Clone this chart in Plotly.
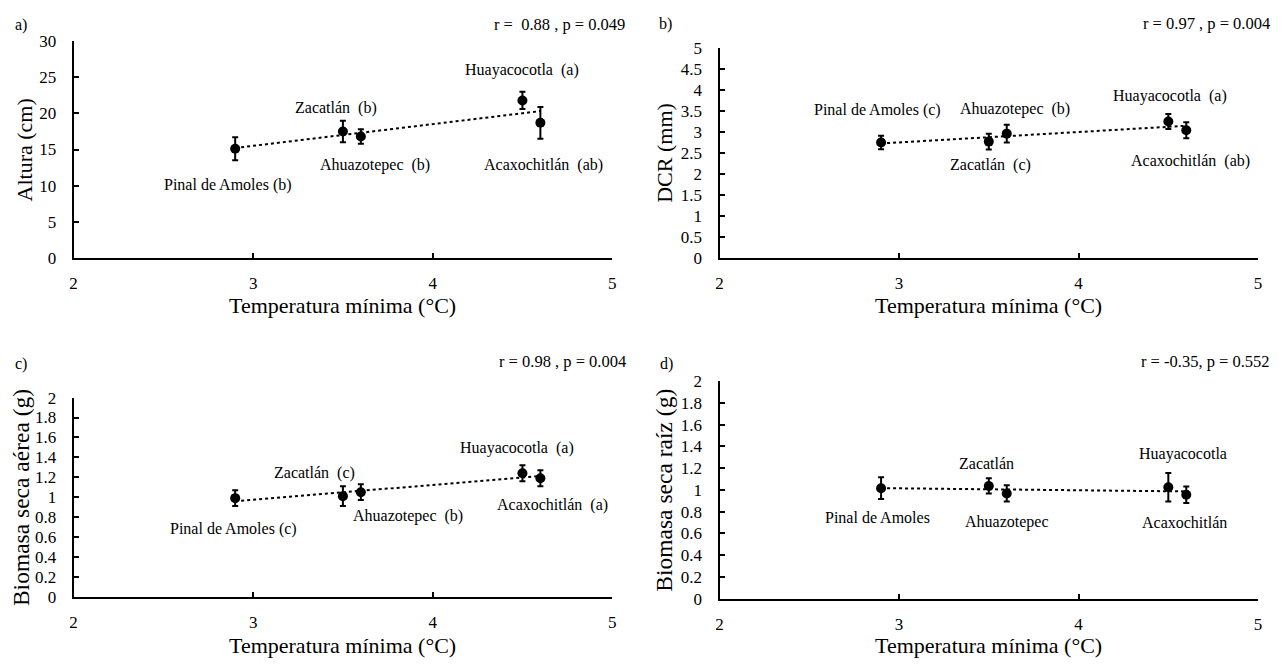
import numpy as np
import plotly.graph_objects as go

# ---------------- data ----------------
sites = ["Pinal de Amoles", "Zacatlán", "Ahuazotepec", "Huayacocotla", "Acaxochitlán"]
temp_min = [2.9, 3.5, 3.6, 4.5, 4.6]

altura = [15.1, 17.5, 16.8, 21.8, 18.7]
altura_err = [1.6, 1.5, 1.0, 1.2, 2.2]
altura_letters = ["(b)", "(b)", "(b)", "(a)", "(ab)"]

dcr = [2.75, 2.77, 2.96, 3.25, 3.04]
dcr_err = [0.16, 0.19, 0.21, 0.18, 0.19]
dcr_letters = ["(c)", "(c)", "(b)", "(a)", "(ab)"]

bsa = [0.99, 1.01, 1.05, 1.24, 1.19]
bsa_err = [0.08, 0.10, 0.08, 0.08, 0.08]
bsa_letters = ["(c)", "(c)", "(b)", "(a)", "(a)"]

bsr = [1.015, 1.036, 0.967, 1.024, 0.955]
bsr_err = [0.10, 0.07, 0.075, 0.13, 0.075]
bsr_letters = ["", "", "", "", ""]

stats = ["r =  0.88 , p = 0.049", "r = 0.97 , p = 0.004",
         "r = 0.98 , p = 0.004", "r = -0.35, p = 0.552"]
panel_tags = ["a)", "b)", "c)", "d)"]
y_titles = ["Altura (cm)", "DCR (mm)", "Biomasa seca aérea (g)", "Biomasa seca raíz (g)"]
x_title = "Temperatura mínima (°C)"
x_ticks = [2, 3, 4, 5]
y_ranges = [[0, 30], [0, 5], [0, 2], [0, 2]]
y_dticks = [5, 0.5, 0.2, 0.2]

# label positions (data coords) per panel, per site
label_x = [
    [2.86, 3.46, 3.68, 4.50, 4.62],
    [2.88, 3.51, 3.645, 4.51, 4.625],
    [2.89, 3.34, 3.86, 4.47, 4.67],
    [2.88, 3.49, 3.60, 4.58, 4.59],
]
label_y = [
    [10.07, 20.8, 12.85, 26.06, 12.85],
    [3.52, 2.215, 3.55, 3.86, 2.31],
    [0.677, 1.246, 0.81, 1.49, 0.917],
    [0.743, 1.243, 0.704, 1.33, 0.704],
]

series = [(altura, altura_err, altura_letters), (dcr, dcr_err, dcr_letters),
          (bsa, bsa_err, bsa_letters), (bsr, bsr_err, bsr_letters)]

# ---------------- layout geometry (page pixels) ----------------
OFF = 8                       # default body margin of the page
W, H = 1284 - 2 * OFF, 670 - 2 * OFF
px_x = [(70, 612), (720, 1262), (70, 612), (720, 1262)]
px_y = [(33, 256), (40, 256), (400, 605), (383, 607)]
tag_pos = [(9, 16), (657, 15), (9, 365), (658, 365)]
stat_pos = [(627, 16), (1276, 15), (628, 363), (1276, 363)]
ytitle_x = [21, 665, 17, 664]
ytitle_size = [22, 22, 23.5, 23.5]
xtitle_y = [305, 305, 655, 655]


def fx(p):
    return (p - OFF) / W


def fy(p):
    return 1 - (p - OFF) / H


FONT = "Liberation Serif, Times New Roman, serif"

fig = go.Figure()
annotations = []
layout_axes = {}

for i, (vals, errs, letters) in enumerate(series):
    n = i + 1
    xa = "x" if n == 1 else f"x{n}"
    ya = "y" if n == 1 else f"y{n}"
    xkey = "xaxis" if n == 1 else f"xaxis{n}"
    ykey = "yaxis" if n == 1 else f"yaxis{n}"

    # trend line
    slope, inter = np.polyfit(temp_min, vals, 1)
    xs = [min(temp_min), max(temp_min)]
    fig.add_trace(go.Scatter(x=xs, y=[slope * v + inter for v in xs], mode="lines",
                             line=dict(color="black", width=2, dash="dot"),
                             xaxis=xa, yaxis=ya, showlegend=False, hoverinfo="skip"))
    # points with error bars
    fig.add_trace(go.Scatter(x=temp_min, y=vals, mode="markers",
                             marker=dict(color="black", size=10),
                             error_y=dict(type="data", array=errs, color="black",
                                          thickness=2, width=3),
                             xaxis=xa, yaxis=ya, showlegend=False))

    x0, x1 = px_x[i]
    y0, y1 = px_y[i]
    layout_axes[xkey] = dict(
        domain=[fx(x0), fx(x1)], range=[2, 5], tickvals=x_ticks,
        anchor=ya, showline=True, linecolor="black", linewidth=2,
        ticks="inside", ticklen=5, tickwidth=1.5, tickcolor="black",
        showgrid=False, zeroline=False, ticklabelstandoff=9,
        tickfont=dict(family=FONT, size=17, color="black"))
    layout_axes[ykey] = dict(
        domain=[fy(y1), fy(y0)], range=y_ranges[i], dtick=y_dticks[i],
        anchor=xa, showline=True, linecolor="black", linewidth=2,
        ticks="inside", ticklen=5, tickwidth=1.5, tickcolor="black",
        showgrid=False, zeroline=False, ticklabelstandoff=12,
        tickfont=dict(family=FONT, size=17, color="black"))

    # point labels
    for j, s in enumerate(sites):
        if not letters[j]:
            txt = s
        elif j == 0:
            txt = f"{s} {letters[j]}"
        else:
            txt = f"{s}  {letters[j]}"
        annotations.append(dict(x=label_x[i][j], y=label_y[i][j], xref=xa, yref=ya,
                                text=txt, showarrow=False,
                                font=dict(family=FONT, size=16, color="black"),
                                xanchor="center", yanchor="middle"))
    # panel tag
    tx, ty = tag_pos[i]
    annotations.append(dict(x=fx(tx), y=fy(ty), xref="paper", yref="paper",
                            text=panel_tags[i], showarrow=False,
                            xanchor="left", yanchor="middle",
                            font=dict(family=FONT, size=16, color="black")))
    # stats
    sx, sy = stat_pos[i]
    annotations.append(dict(x=fx(sx), y=fy(sy), xref="paper", yref="paper",
                            text=stats[i], showarrow=False,
                            xanchor="right", yanchor="middle",
                            font=dict(family=FONT, size=16.5, color="black")))
    # y title
    annotations.append(dict(x=fx(ytitle_x[i]), y=fy((y0 + y1) / 2),
                            xref="paper", yref="paper", text=y_titles[i],
                            showarrow=False, textangle=-90, xanchor="center",
                            yanchor="middle",
                            font=dict(family=FONT, size=ytitle_size[i], color="black")))
    # x title
    annotations.append(dict(x=fx((x0 + x1) / 2), y=fy(xtitle_y[i]),
                            xref="paper", yref="paper", text=x_title,
                            showarrow=False, xanchor="center", yanchor="middle",
                            font=dict(family=FONT, size=22, color="black")))

fig.update_layout(width=W, height=H, margin=dict(l=0, r=0, t=0, b=0),
                  paper_bgcolor="white", plot_bgcolor="white",
                  annotations=annotations, **layout_axes)

fig.write_html("out.html")
